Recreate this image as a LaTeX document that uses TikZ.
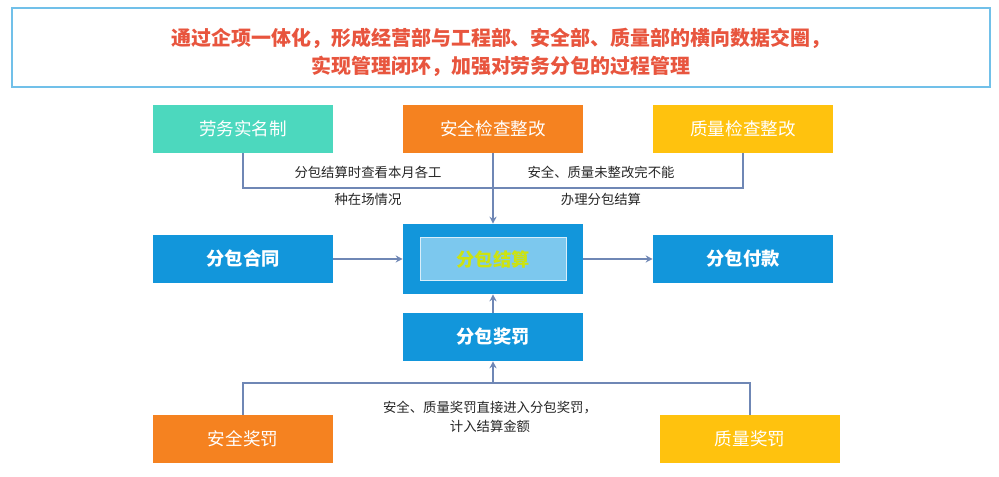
\documentclass[tikz,border=0pt]{standalone}
\usepackage{fontspec}
\setmainfont{Noto Sans CJK SC}
\usetikzlibrary{arrows.meta}
\definecolor{teal1}{HTML}{4CD8BE}
\definecolor{orange1}{HTML}{F58220}
\definecolor{yellow1}{HTML}{FFC20E}
\definecolor{blue1}{HTML}{1296DB}
\definecolor{lightblue1}{HTML}{7CC8EE}
\definecolor{line1}{HTML}{6F87B5}
\definecolor{red1}{HTML}{E8553E}
\tikzset{
  box/.style={minimum width=4.5cm, minimum height=1.2cm, inner sep=0pt, font=\fontsize{12.5}{14}\selectfont},
  bluebox/.style={box, fill=blue1, text=white, font=\bfseries\fontsize{13}{15}\selectfont},
  conn/.style={line1, line width=0.9pt},
  arr/.style={conn, -{Stealth[length=5pt,width=5pt]}},
  note/.style={font=\fontsize{9.5}{11}\selectfont, text=black!85}
}
\begin{document}
\begin{tikzpicture}[x=0.025cm, y=-0.025cm]
			\useasboundingbox (0,0) rectangle (999,477);
			\fill[white] (0,0) rectangle (999,477);

			% header
			\draw[blue1!60, line width=0.8pt] (12,8) rectangle (990,87);
			\node[text=red1, font=\bfseries\fontsize{14.2}{16}\selectfont] (head1) at (501,38) {通过企项一体化，形成经营部与工程部、安全部、质量部的横向数据交圈，};
			\node[text=red1, font=\bfseries\fontsize{14.2}{16}\selectfont] (head2) at (501,66) {实现管理闭环，加强对劳务分包的过程管理};

			% top row
			\node[box, fill=teal1, text=white] (labor) at (243,129) {劳务实名制};
			\node[box, fill=orange1, text=white] (safecheck) at (493,129) {安全检查整改};
			\node[box, fill=yellow1, text=white] (qualcheck) at (743,129) {质量检查整改};

			% middle row
			\node[bluebox] (contract) at (243,259) {分包合同};
			\node[box, fill=blue1, minimum height=1.75cm] (settle) at (493,259) {};
			\node[fill=lightblue1, draw=white!70!lightblue1, minimum width=3.65cm, minimum height=1.07cm, text=yellow!80!green, font=\bfseries\fontsize{13}{15}\selectfont] (settlein) at (493,259) {分包结算};
			\node[bluebox] (pay) at (743,259) {分包付款};
			\node[bluebox] (reward) at (493,337) {分包奖罚};

			% bottom row
			\node[box, fill=orange1, text=white] (safereward) at (243,439) {安全奖罚};
			\node[box, fill=yellow1, text=white] (qualreward) at (750,439) {质量奖罚};

			% connectors
			\coordinate (topjoin) at (493,188);
			\coordinate (botjoin) at (493,383);
			\draw[conn] (labor.south) |- (topjoin) -| (qualcheck.south);
			\draw[arr] (safecheck.south) -- (settle.north);
			\draw[arr] (contract.east) -- (settle.west);
			\draw[arr] (settle.east) -- (pay.west);
			\draw[arr] (reward.north) -- (settle.south);
			\draw[conn] (safereward.north) |- (botjoin) -| (qualreward.north);
			\draw[arr] (botjoin) -- (reward.south);

			% labels
			\node[note] (n1) at (368,172) {分包结算时查看本月各工};
			\node[note] (n2) at (368,199) {种在场情况};
			\node[note] (n3) at (601,172) {安全、质量未整改完不能};
			\node[note] (n4) at (601,199) {办理分包结算};
			\node[note] (n5) at (490,408) {安全、质量奖罚直接进入分包奖罚，};
			\node[note] (n6) at (490,426) {计入结算金额};
		\end{tikzpicture}
\end{document}
